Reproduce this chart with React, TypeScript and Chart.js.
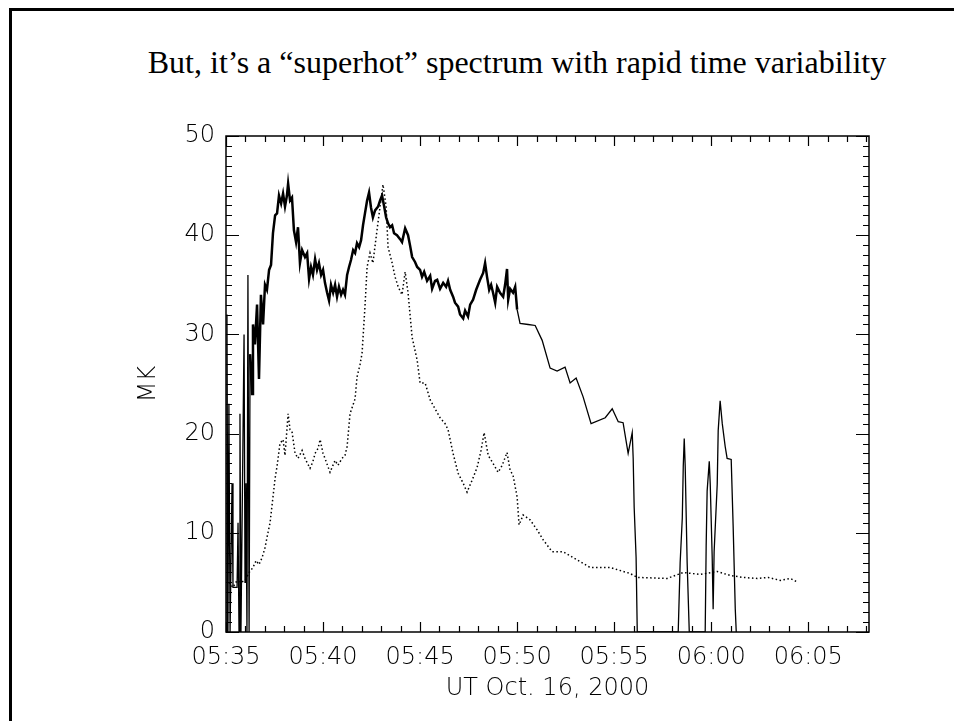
import { useEffect, useRef } from "react";
import { Chart, registerables } from "chart.js";

Chart.register(...registerables);

const TITLE = "But, it\u2019s a \u201csuperhot\u201d spectrum with rapid time variability";
const X_TITLE = "UT Oct. 16, 2000";
const Y_TITLE = "MK";
const X_TICK_VALUES = [0, 5, 10, 15, 20, 25, 30];
const X_TICK_LABELS = ["05:35", "05:40", "05:45", "05:50", "05:55", "06:00", "06:05"];
const Y_TICK_VALUES = [0, 10, 20, 30, 40, 50];
const X_MAX = 33.13; // minutes after 05:35
const Y_MAX = 50;

// Solid curve: minutes after 05:35, temperature in MK
const SOLID_MIN = [
  0.03, 0.05, 0.1, 0.15, 0.21, 0.31, 0.36, 0.57, 0.62, 0.67, 0.72, 0.77, 0.93, 0.98, 1.03, 1.08, 1.13, 1.19,
  1.24, 1.34, 1.39, 1.49, 1.6, 1.7, 1.8, 1.91, 2.01, 2.11, 2.22, 2.32, 2.42, 2.53, 2.63, 2.73, 2.84, 2.94,
  3.04, 3.14, 3.2, 3.3, 3.4, 3.5, 3.61, 3.71, 3.81, 3.92, 4.07, 4.18, 4.28, 4.38, 4.48, 4.59, 4.69, 4.79,
  4.9, 5.0, 5.1, 5.21, 5.31, 5.41, 5.52, 5.62, 5.72, 5.82, 5.93, 6.03, 6.13, 6.24, 6.34, 6.44, 6.55, 6.65,
  6.75, 6.86, 6.96, 7.06, 7.16, 7.27, 7.37, 7.47, 7.57, 7.68, 7.84, 7.94, 8.04, 8.14, 8.25, 8.35, 8.45, 8.56,
  8.66, 8.81, 8.97, 9.07, 9.23, 9.38, 9.48, 9.59, 9.74, 9.85, 10.0, 10.1, 10.21, 10.36, 10.52, 10.62, 10.77,
  10.88, 11.03, 11.19, 11.34, 11.44, 11.55, 11.7, 11.8, 11.96, 12.06, 12.22, 12.32, 12.47, 12.58, 12.73,
  12.89, 13.09, 13.25, 13.35, 13.45, 13.56, 13.66, 13.76, 13.87, 13.97, 14.12, 14.28, 14.38, 14.48, 14.54,
  14.64, 14.79, 14.9, 15.0, 15.15, 15.57, 15.93, 16.29, 16.7, 17.06, 17.47, 17.73, 18.04, 18.4, 18.81,
  19.54, 19.9, 20.21, 20.46, 20.72, 20.93, 20.98, 21.03, 21.13, 21.19, 23.3, 23.4, 23.51, 23.56, 23.61,
  23.66, 23.76, 23.87, 24.69, 24.74, 24.79, 24.9, 24.95, 25.05, 25.1, 25.15, 25.31, 25.36, 25.46, 25.57,
  25.72, 25.82, 26.03, 26.13, 26.24, 26.29,
];
const SOLID_MK = [
  0, 32, 0, 23, 0, 15, 4.5, 4.5, 11, 0, 22, 0, 30, 5, 15, 0, 36, 0,
  28, 24, 31, 29, 33, 25.5, 34, 31, 35, 34.5, 36.5, 37, 40.2, 42, 42.2, 44, 43.2, 44.2,
  42.9, 44, 45.2, 43.5, 43.8, 40.5, 39.3, 40.8, 37.2, 38.5, 37.8, 38.2, 35.6, 36.8, 36, 37.6, 36.5, 37.2,
  36, 36.5, 35.2, 34.2, 33.4, 35, 34.2, 35, 33.8, 34.8, 34, 34.5, 34, 36, 36.8, 37.5, 38.5, 38.2,
  39.2, 38.8, 39.5, 41, 42.2, 43.5, 44.3, 42.8, 41.8, 42.5, 42.9, 43.5, 44, 43, 41.8, 41.2, 40.8, 41,
  40.2, 40, 39.6, 39.3, 40.7, 40, 39, 37.8, 37.3, 36.8, 36.5, 35.8, 36.3, 35.4, 35.9, 34.6, 35.4,
  35.5, 34.6, 35.2, 34.8, 35.4, 34.5, 33.8, 33.2, 32.8, 32, 31.6, 32.4, 31.8, 33, 33.5,
  34.5, 35.5, 36.2, 37.2, 35.8, 34.5, 35, 34.2, 33.2, 34.8, 34.2, 33.8, 35, 36.6, 33.5,
  34.6, 34.2, 34.8, 32.5, 31.1, 31, 30.9, 29.4, 26.6, 26.3, 26.7, 25.1, 25.6, 23.7, 21,
  21.6, 22.5, 21.2, 21.1, 18, 20.1, 17.5, 12.6, 7.5, 0, 0, 7, 11.5, 16.7, 19.5,
  16.7, 7, 0, 0, 8.7, 14.2, 17.2, 14.9, 7.6, 2.3, 8.1, 14.9, 20.3, 23.3, 21,
  18.7, 17.5, 17.4, 10.7, 2.3, 0,
];

// Dotted curve: minutes after 05:35, temperature in MK
const DOTTED_MIN = [
  0.15, 0.36, 0.57, 0.77, 0.98, 1.19, 1.39, 1.55, 1.7, 1.86, 2.01, 2.16, 2.27, 2.42, 2.53, 2.63, 2.78, 2.94,
  3.04, 3.2, 3.3, 3.4, 3.56, 3.71, 3.92, 4.07, 4.33, 4.48, 4.59, 4.74, 4.85, 5.0, 5.1, 5.36, 5.62, 5.77,
  5.98, 6.13, 6.24, 6.39, 6.65, 6.75, 6.91, 7.01, 7.16, 7.27, 7.42, 7.57, 7.78, 7.94, 8.09, 8.25, 8.35,
  8.56, 8.71, 8.87, 9.07, 9.23, 9.38, 9.59, 9.85, 10.0, 10.26, 10.52, 10.77, 11.03, 11.29, 11.44, 11.7,
  11.96, 12.22, 12.42, 12.68, 12.94, 13.14, 13.3, 13.51, 13.76, 14.02, 14.23, 14.48, 14.64, 14.79, 15.0,
  15.1, 15.31, 15.67, 16.03, 16.34, 16.8, 17.37, 17.89, 18.76, 19.79, 20.82, 21.19, 22.73, 23.56, 24.43,
  25.31, 25.98, 26.65, 27.37, 27.94, 28.56, 29.07, 29.48,
];
const DOTTED_MK = [
  5, 4.5, 5.2, 5, 5.2, 6, 6.5, 7.2, 6.8, 7.5, 8.5, 10, 11, 13.6, 15.5, 16.7, 19, 19.4,
  17.8, 22, 20.4, 20.2, 18, 17.5, 18.3, 17.5, 16.5, 17.2, 18, 18.5, 19.4, 18, 17.5, 16.1, 17.3, 16.8,
  17.5, 17.8, 18.7, 22, 23.5, 25.7, 27, 28.1, 32.8, 36.8, 38.2, 37.2, 40.5, 42.9, 45.1, 42.9, 38.8,
  37.2, 35.8, 34.8, 34, 36.3, 34.2, 29.7, 27.4, 25.1, 25.1, 23.4, 22.5, 21.6, 21, 20.4, 18,
  16, 15, 14.1, 15.3, 16.6, 18.3, 20.1, 17.8, 17, 16.1, 16.8, 18.1, 16.3, 15.8, 13.6,
  10.8, 11.8, 11.3, 10.3, 9.3, 8.1, 8.1, 7.5, 6.5, 6.5, 5.9, 5.5, 5.4, 6.0, 5.8,
  6.1, 5.7, 5.5, 5.4, 5.5, 5.2, 5.4, 5.0,
];

const TICK_FONT = { family: "'DejaVu Sans', sans-serif", size: 24, weight: 200 as any };

const frameTicks = {
  id: "frameTicks",
  afterDatasetsDraw(chart: any) {
    const { ctx, chartArea: a, scales } = chart;
    const xs = scales.x;
    const ys = scales.y;
    ctx.save();
    ctx.strokeStyle = "#000";
    ctx.lineWidth = 1.5;
    ctx.strokeRect(a.left, a.top, a.right - a.left, a.bottom - a.top);
    ctx.lineWidth = 1.2;
    ctx.beginPath();
    for (let m = 0; m <= X_MAX; m += 1) {
      const px = Math.round(xs.getPixelForValue(m)) + 0.5;
      const len = m % 5 === 0 ? 10 : 6;
      ctx.moveTo(px, a.bottom);
      ctx.lineTo(px, a.bottom - len);
      ctx.moveTo(px, a.top);
      ctx.lineTo(px, a.top + len);
    }
    for (let v = 0; v <= Y_MAX; v += 1) {
      const py = Math.round(ys.getPixelForValue(v)) + 0.5;
      const len = v % 10 === 0 ? 13 : 6;
      ctx.moveTo(a.left, py);
      ctx.lineTo(a.left + len, py);
      ctx.moveTo(a.right, py);
      ctx.lineTo(a.right - len, py);
    }
    ctx.stroke();
    ctx.restore();
  },
};

export default function App() {
  const ref = useRef<HTMLCanvasElement | null>(null);

  useEffect(() => {
    document.body.style.margin = "0";
    const canvas = ref.current;
    if (!canvas) return;
    const solid = SOLID_MIN.map((m, i) => ({ x: m, y: SOLID_MK[i] }));
    const dotted = DOTTED_MIN.map((m, i) => ({ x: m, y: DOTTED_MK[i] }));
    const chart = new Chart(canvas, {
      type: "line",
      data: {
        datasets: [
          {
            data: dotted,
            borderColor: "#000",
            borderWidth: 1.5,
            borderDash: [1.5, 2.5],
            pointRadius: 0,
            tension: 0,
            fill: false,
          },
          {
            data: solid,
            borderColor: "#000",
            borderWidth: 1.3,
            pointRadius: 0,
            tension: 0,
            fill: false,
            segment: {
              borderWidth: (c: any) => (c.p0.parsed.x > 1.2 && c.p1.parsed.x < 15.1 ? 2.5 : 1.3),
            },
          },
        ],
      },
      options: {
        animation: false,
        responsive: false,
        events: [],
        layout: { padding: { left: 128, right: 85, top: 136, bottom: 0 } },
        plugins: { legend: { display: false }, tooltip: { enabled: false }, title: { display: false } },
        scales: {
          x: {
            type: "linear",
            min: 0,
            max: X_MAX,
            afterBuildTicks: (s: any) => {
              s.ticks = X_TICK_VALUES.map((v) => ({ value: v }));
            },
            afterFit: (s: any) => {
              s.height = 89;
            },
            grid: { display: false, drawTicks: false, tickLength: 0 },
            border: { display: false },
            ticks: {
              color: "#000",
              font: TICK_FONT,
              padding: 11,
              maxRotation: 0,
              autoSkip: false,
              callback: (v: any) => {
                const i = X_TICK_VALUES.indexOf(Number(v));
                return i >= 0 ? X_TICK_LABELS[i] : "";
              },
            },
            title: { display: true, text: X_TITLE, color: "#000", font: TICK_FONT, padding: { top: 0, bottom: 18 } },
          },
          y: {
            type: "linear",
            min: 0,
            max: Y_MAX,
            afterBuildTicks: (s: any) => {
              s.ticks = Y_TICK_VALUES.map((v) => ({ value: v }));
            },
            afterFit: (s: any) => {
              s.width = 98;
            },
            grid: { display: false, drawTicks: false, tickLength: 0 },
            border: { display: false },
            ticks: { color: "#000", font: TICK_FONT, padding: 11, autoSkip: false },
            title: { display: true, text: Y_TITLE, color: "#000", font: TICK_FONT, padding: { top: 6, bottom: 0 } },
          },
        },
      },
      plugins: [frameTicks],
    });
    return () => chart.destroy();
  }, []);

  return (
    <div style={{ position: "relative", width: 954, height: 721, overflow: "hidden", background: "#fff" }}>
      <div
        style={{
          position: "absolute",
          left: 9,
          top: 8,
          right: -10,
          bottom: -10,
          borderTop: "3px solid #000",
          borderLeft: "3px solid #000",
        }}
      />
      <div
        style={{
          position: "absolute",
          left: 517,
          top: 44,
          transform: "translateX(-50%)",
          whiteSpace: "nowrap",
          fontFamily: "'Liberation Serif', 'Times New Roman', serif",
          fontSize: 32,
          lineHeight: "36px",
          color: "#000",
        }}
      >
        {TITLE}
      </div>
      <canvas ref={ref} width={954} height={721} style={{ position: "absolute", left: 0, top: 0 }} />
    </div>
  );
}
